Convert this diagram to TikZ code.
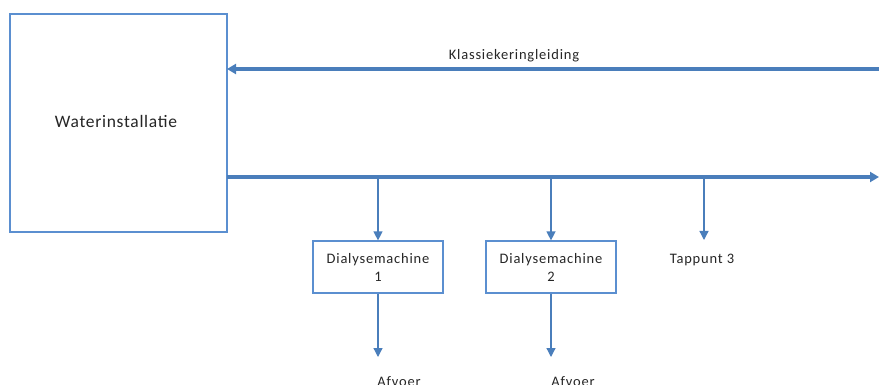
\documentclass[tikz,border=0pt]{standalone}
\usepackage{fontspec}
\setmainfont{Carlito}
\usetikzlibrary{arrows.meta}
\definecolor{lineblue}{HTML}{4A7EBB}
\definecolor{boxblue}{HTML}{5B8FD0}
\newfontfamily\smallsp[LetterSpace=5.5]{Carlito}
\newfontfamily\bigsp[LetterSpace=4]{Carlito}
\begin{document}
\begin{tikzpicture}[x=1pt,y=-1pt,
  boxst/.style={draw=boxblue,line width=1.2pt,fill=white,inner sep=0pt},
  pipe/.style={draw=lineblue,line width=3.2pt,-{Triangle[length=9pt,width=10pt]}},
  branch/.style={draw=lineblue,line width=1.3pt,-{Triangle[length=9pt,width=9pt]}},
  lbl/.style={font=\smallsp\fontsize{14.5}{16}\selectfont,text=black!85,inner sep=0pt},
  dbox/.style={boxst,minimum width=130pt,minimum height=52pt,align=center,font=\smallsp\fontsize{14.5}{18}\selectfont,text=black!85}]
\useasboundingbox (0,0) rectangle (879,385);
\node[boxst,minimum width=217pt,minimum height=218pt] (wi) at (118.5,123) {};
\node[font=\bigsp\fontsize{17.5}{19}\selectfont,text=black!85,anchor=base] (wil) at (116,128) {Waterinstallatie};
\coordinate (tin) at (879,69);
\coordinate (wiTop) at (227,69);
\coordinate (wiBot) at (227,177);
\coordinate (tout) at (879,177);
\draw[pipe] (tin) -- (wiTop);
\draw[pipe] (wiBot) -- (tout);
\node[lbl,anchor=base] (kl) at (514,60) {Klassiekeringleiding};
\node[dbox] (d1) at (378,267) {Dialysemachine\\1};
\node[dbox] (d2) at (551,267) {Dialysemachine\\2};
\coordinate (b1) at (378,177);
\coordinate (b2) at (551,177);
\coordinate (b3) at (704,177);
\coordinate (t3e) at (704,240);
\node[lbl,anchor=base] (tp3) at (702,263) {Tappunt 3};
\draw[branch] (b1) -- (d1.north);
\draw[branch] (b2) -- (d2.north);
\draw[branch] (b3) -- (t3e);
\coordinate (a1e) at (378,357);
\coordinate (a2e) at (551,357);
\node[lbl,anchor=base] (af1) at (399,386) {Afvoer};
\node[lbl,anchor=base] (af2) at (573,386) {Afvoer};
\draw[branch] (d1.south) -- (a1e);
\draw[branch] (d2.south) -- (a2e);
\end{tikzpicture}
\end{document}
